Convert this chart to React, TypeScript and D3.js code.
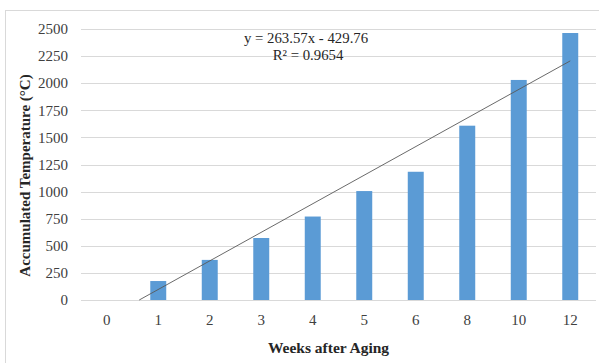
import { useEffect, useRef } from "react";
import * as d3 from "d3";

const weeks = ["0", "1", "2", "3", "4", "5", "6", "8", "10", "12"];
const accumulated = [0, 175, 370, 572, 770, 1005, 1183, 1608, 2030, 2463];
const yTicks = [0, 250, 500, 750, 1000, 1250, 1500, 1750, 2000, 2250, 2500];
const trendSlope = 263.57;
const trendIntercept = -429.76;

export default function App() {
  const svgRef = useRef<SVGSVGElement>(null);

  useEffect(() => {
    if (!svgRef.current) return;
    const svg = d3.select(svgRef.current);
    svg.selectAll("*").remove();

    const font = "'Liberation Serif', 'Times New Roman', serif";
    const left = 81;
    const right = 596;
    const top = 29;
    const bottom = 300;

    // outer chart border (right and bottom edges fall outside the frame)
    svg
      .append("rect")
      .attr("x", 5.5)
      .attr("y", 10.5)
      .attr("width", 620)
      .attr("height", 400)
      .attr("fill", "white")
      .attr("stroke", "#d9d9d9");

    const x = d3.scaleBand().domain(weeks).range([left, right]).paddingInner(0.69).paddingOuter(0.345);
    const y = d3.scaleLinear().domain([0, 2500]).range([bottom, top]);

    // gridlines
    svg
      .append("g")
      .selectAll("line")
      .data(yTicks)
      .enter()
      .append("line")
      .attr("x1", left)
      .attr("x2", right)
      .attr("y1", (d) => Math.round(y(d)) + 0.5)
      .attr("y2", (d) => Math.round(y(d)) + 0.5)
      .attr("stroke", "#d9d9d9")
      .attr("stroke-width", 1);

    // y tick labels
    svg
      .append("g")
      .selectAll("text")
      .data(yTicks)
      .enter()
      .append("text")
      .attr("x", 68)
      .attr("y", (d) => y(d))
      .attr("dy", "0.35em")
      .attr("text-anchor", "end")
      .attr("font-family", font)
      .attr("font-size", 15)
      .attr("fill", "#404040")
      .text((d) => d);

    // bars
    svg
      .append("g")
      .selectAll("rect")
      .data(accumulated)
      .enter()
      .append("rect")
      .attr("x", (d, i) => x(weeks[i])!)
      .attr("y", (d) => y(d))
      .attr("width", x.bandwidth())
      .attr("height", (d) => bottom - y(d))
      .attr("fill", "#5b9bd5");

    // x tick labels
    svg
      .append("g")
      .selectAll("text")
      .data(weeks)
      .enter()
      .append("text")
      .attr("x", (d) => x(d)! + x.bandwidth() / 2)
      .attr("y", 320)
      .attr("dy", "0.35em")
      .attr("text-anchor", "middle")
      .attr("font-family", font)
      .attr("font-size", 15)
      .attr("fill", "#404040")
      .text((d) => d);

    // linear trendline, clipped at y = 0
    const cx = (n: number) => x(weeks[0])! + x.bandwidth() / 2 + (n - 1) * x.step();
    const n0 = -trendIntercept / trendSlope;
    const n1 = weeks.length;
    svg
      .append("line")
      .attr("x1", cx(n0))
      .attr("y1", y(0))
      .attr("x2", cx(n1))
      .attr("y2", y(trendSlope * n1 + trendIntercept))
      .attr("stroke", "#595959")
      .attr("stroke-width", 0.9);

    // trendline equation
    const eq = svg
      .append("text")
      .attr("text-anchor", "middle")
      .attr("font-family", font)
      .attr("font-size", 14.8)
      .attr("fill", "#262626");
    eq.append("tspan").attr("x", 306).attr("y", 43).text(`y = ${trendSlope}x - ${-trendIntercept}`);
    eq.append("tspan").attr("x", 308).attr("y", 60).text("R² = 0.9654");

    // axis titles
    svg
      .append("text")
      .attr("transform", `translate(30,175.5) rotate(-90)`)
      .attr("text-anchor", "middle")
      .attr("font-family", font)
      .attr("font-size", 15)
      .attr("font-weight", "bold")
      .attr("fill", "#262626")
      .text("Accumulated Temperature (°C)");

    svg
      .append("text")
      .attr("x", 328.5)
      .attr("y", 353)
      .attr("text-anchor", "middle")
      .attr("font-family", font)
      .attr("font-size", 15.5)
      .attr("font-weight", "bold")
      .attr("fill", "#262626")
      .text("Weeks after Aging");
  }, []);

  return (
    <svg
      ref={svgRef}
      width={599}
      height={363}
      style={{ position: "absolute", left: 0, top: 0, background: "white" }}
    />
  );
}
